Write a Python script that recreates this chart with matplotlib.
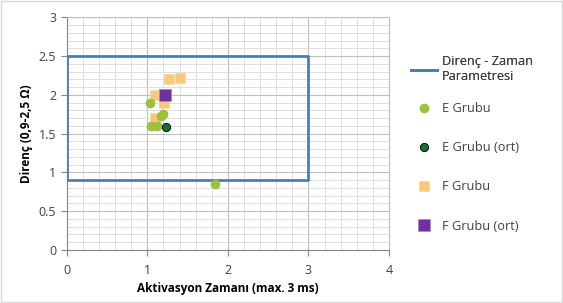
import matplotlib
matplotlib.use("Agg")
import matplotlib.pyplot as plt
from matplotlib.ticker import MultipleLocator

plt.rcParams["font.family"] = ["Open Sans", "DejaVu Sans"]

# Direnç - Zaman parametre kutusu
box_x = [0, 3, 3, 0, 0]
box_y = [0.9, 0.9, 2.5, 2.5, 0.9]

# E Grubu
e_x = [1.03, 1.19, 1.17, 1.05, 1.12, 1.84]
e_y = [1.90, 1.75, 1.73, 1.60, 1.60, 0.85]
e_ort_x = [1.23]
e_ort_y = [1.58]

# F Grubu
f_x = [1.275, 1.41, 1.10, 1.21, 1.10, 1.21]
f_y = [2.20, 2.22, 2.00, 1.90, 1.70, 2.00]
f_ort_x = [1.22]
f_ort_y = [2.00]

BLUE = "#4A7EBB"
LIGHT_GREEN = "#9DC13C"
DARK_GREEN = "#1B6B35"
ORANGE = "#FBC878"
PURPLE = "#7030A0"

fig = plt.figure(figsize=(5.63, 3.03), dpi=100)
ax = fig.add_axes([66.7 / 563, 1 - 250 / 303, (389 - 66.7) / 563, (250 - 17.3) / 303])

h_box, = ax.plot(box_x, box_y, color=BLUE, lw=2, label="Direnç - Zaman\nParametresi", zorder=3)
h_e, = ax.plot(e_x, e_y, ls="none", marker="o", ms=6, color=LIGHT_GREEN, mec=LIGHT_GREEN,
               label="E Grubu", zorder=4)
h_eo, = ax.plot(e_ort_x, e_ort_y, ls="none", marker="o", ms=6, color=DARK_GREEN, mec="black",
                mew=0.6, label="E Grubu (ort)", zorder=6)
h_f, = ax.plot(f_x, f_y, ls="none", marker="s", ms=6.5, color=ORANGE, mec="#F5D9A8",
               mew=0.6, label="F Grubu", zorder=3.5)
h_fo, = ax.plot(f_ort_x, f_ort_y, ls="none", marker="s", ms=8, color=PURPLE, mec="#A98BC8",
                mew=0.6, label="F Grubu (ort)", zorder=5)

ax.set_xlim(0, 4)
ax.set_ylim(0, 3)
ax.xaxis.set_major_locator(MultipleLocator(1))
ax.xaxis.set_minor_locator(MultipleLocator(0.2))
ax.yaxis.set_major_locator(MultipleLocator(0.5))
ax.yaxis.set_minor_locator(MultipleLocator(0.1))
ax.set_yticks([0, 0.5, 1, 1.5, 2, 2.5, 3])
ax.set_yticklabels(["0", "0.5", "1", "1.5", "2", "2.5", "3"])
ax.grid(which="major", color="#BFBFBF", lw=0.8)
ax.grid(which="minor", color="#D9D9D9", lw=0.6)
ax.set_axisbelow(True)
ax.tick_params(which="major", length=4, color="#868686", labelsize=9, colors="#404040")
ax.tick_params(which="minor", length=0)
ax.tick_params(axis="x", pad=6)
for s in ["top", "right"]:
    ax.spines[s].set_color("#BFBFBF")
    ax.spines[s].set_linewidth(0.8)
for s in ["left", "bottom"]:
    ax.spines[s].set_color("#868686")

ax.set_xlabel("Aktivasyon Zamanı (max. 3 ms)", fontsize=8.5, fontweight="bold", labelpad=4)
ax.set_ylabel("Direnç (0,9-2,5 Ω)", fontsize=8.5, fontweight="bold", labelpad=4)

leg_kw = dict(loc="upper left", frameon=False, fontsize=9.2, handlelength=2.0,
              handletextpad=0.4, labelcolor="#404040", borderaxespad=0, borderpad=0)
leg1 = fig.legend(handles=[h_box], bbox_to_anchor=(411 / 563, 1 - 55 / 303), **leg_kw)
fig.legend(handles=[h_e, h_eo, h_f, h_fo], bbox_to_anchor=(411 / 563, 1 - 102 / 303),
           labelspacing=2.05, **leg_kw)
fig.add_artist(leg1)

# chart border
fig.patches.append(plt.Rectangle((0.002, 0.003), 0.996, 0.994, transform=fig.transFigure,
                                 fill=False, edgecolor="#D9D9D9", lw=1))

fig.savefig("out.png", dpi=100)
